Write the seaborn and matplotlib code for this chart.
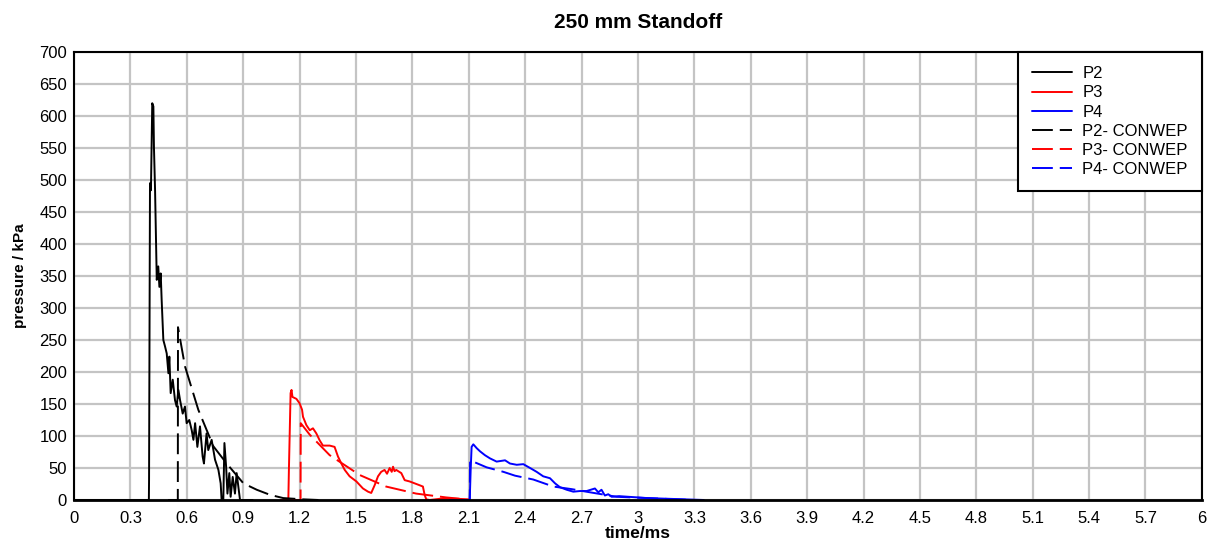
import numpy as np
import pandas as pd
import matplotlib
matplotlib.use("Agg")
import matplotlib.pyplot as plt
import seaborn as sns

p2_t = [0.0, 0.398, 0.399, 0.404, 0.409, 0.416, 0.422, 0.425, 0.431, 0.436, 0.440,
        0.448, 0.454, 0.461, 0.466, 0.475, 0.484, 0.493, 0.502, 0.507, 0.514, 0.525,
        0.537, 0.546, 0.555, 0.564, 0.578, 0.590, 0.599, 0.613, 0.626, 0.635, 0.644,
        0.656, 0.670, 0.684, 0.691, 0.705, 0.714, 0.732, 0.750, 0.768, 0.780, 0.785,
        0.794, 0.800, 0.809, 0.816, 0.826, 0.833, 0.844, 0.856, 0.865, 0.874, 0.883, 0.95]
p2_p = [0, 0, 31, 495, 484, 620, 615, 552, 484, 406, 344,
        365, 333, 354, 313, 250, 240, 229, 198, 224, 167, 188,
        156, 146, 172, 156, 135, 146, 120, 125, 109, 94, 120,
        83, 115, 68, 57, 104, 78, 94, 63, 47, 26, 0,
        0, 89, 52, 10, 42, 5, 36, 10, 42, 21, 0, 0]

p3_t = [1.10, 1.140, 1.143, 1.152, 1.157, 1.162, 1.183, 1.200, 1.213, 1.218, 1.236,
        1.254, 1.271, 1.289, 1.307, 1.324, 1.360, 1.386, 1.404, 1.422, 1.440, 1.466,
        1.502, 1.537, 1.564, 1.581, 1.599, 1.617, 1.634, 1.652, 1.665, 1.679, 1.690,
        1.697, 1.705, 1.714, 1.741, 1.759, 1.785, 1.812, 1.839, 1.856, 1.865, 1.874,
        1.892, 1.95, 2.03, 2.10]
p3_p = [0, 0, 47, 167, 172, 161, 158, 151, 141, 130, 117,
        109, 112, 104, 93, 85, 85, 83, 68, 57, 47, 37,
        29, 18, 13, 11, 23, 37, 44, 47, 41, 50, 44,
        52, 45, 47, 42, 31, 29, 26, 23, 21, 8, 1,
        0, 2, 2, 1]

p4_t = [2.00, 2.105, 2.110, 2.115, 2.124, 2.142, 2.160, 2.186, 2.213, 2.248, 2.293,
        2.319, 2.355, 2.390, 2.426, 2.461, 2.496, 2.532, 2.559, 2.585, 2.621, 2.656,
        2.692, 2.727, 2.771, 2.789, 2.806, 2.824, 2.842, 2.860, 2.90, 2.95, 3.05, 3.15,
        3.25, 3.35]
p4_p = [0, 0, 47, 83, 87, 81, 76, 70, 65, 60, 62,
        57, 55, 56, 50, 44, 37, 34, 26, 20, 16, 13,
        14, 14, 18, 12, 16, 7, 9, 5, 6, 5, 3, 2,
        1, 0]

# CONWEP predictions
c2_t = [0.50, 0.552, 0.553, 0.590, 0.661, 0.741, 0.812, 0.901, 0.972, 1.043, 1.113, 1.22, 1.30]
c2_p = [0, 0, 270, 209, 141, 84, 57, 26, 16, 8, 3, 1, 0]

c3_t = [1.15, 1.205, 1.206, 1.254, 1.36, 1.52, 1.66, 1.82, 1.98, 2.05]
c3_p = [0, 0, 120, 102, 70, 39, 21, 10, 4, 2]

c4_t = [2.05, 2.105, 2.107, 2.195, 2.284, 2.346, 2.443, 2.550, 2.647, 2.745, 2.887,
        3.047, 3.207, 3.30]
c4_p = [0, 0, 62, 51, 44, 38, 32, 21, 17, 12, 5, 3, 1, 0]

x_ticks = np.round(np.arange(0, 6.01, 0.3), 1)
y_ticks = np.arange(0, 701, 50)

sns.set_theme(style="whitegrid")
plt.rcParams["font.family"] = ["Liberation Sans", "DejaVu Sans"]
plt.rcParams["lines.scale_dashes"] = False
plt.rcParams["text.color"] = "black"
plt.rcParams["axes.labelcolor"] = "black"

fig = plt.figure(figsize=(12.14, 5.48), dpi=100)
ax = fig.add_axes([0.061, 0.0876, 0.929, 0.8175])

series = [
    ("P2", p2_t, p2_p, "black", "-"),
    ("P3", p3_t, p3_p, "red", "-"),
    ("P4", p4_t, p4_p, "blue", "-"),
    ("P2- CONWEP", c2_t, c2_p, "black", (0, (15, 5))),
    ("P3- CONWEP", c3_t, c3_p, "red", (0, (15, 5))),
    ("P4- CONWEP", c4_t, c4_p, "blue", (0, (15, 5))),
]
for label, t, p, col, ls in series:
    df = pd.DataFrame({"time": t, "pressure": p})
    sns.lineplot(data=df, x="time", y="pressure", ax=ax, color=col, linewidth=1.4,
                 linestyle=ls, estimator=None, sort=False, label=label)

ax.set_xlim(0, 6)
ax.set_ylim(0, 700)
ax.set_xticks(x_ticks)
ax.set_xticklabels([f"{v:g}" for v in x_ticks])
ax.set_yticks(y_ticks)
ax.grid(True, color="#c4c4c4", linewidth=1.6)
ax.set_facecolor("white")
for s in ax.spines.values():
    s.set_color("black")
    s.set_linewidth(1.5)
ax.spines["bottom"].set_linewidth(2)
ax.tick_params(axis="x", labelsize=12, colors="black", pad=8, length=0)
ax.tick_params(axis="y", labelsize=12, colors="black", pad=5, length=0)

ax.set_xlabel("time/ms", fontsize=12.5, fontweight="bold", labelpad=0, color="black")
ax.set_ylabel("pressure / kPa", fontsize=11, fontweight="bold", labelpad=9, color="black")
ax.set_title("250 mm Standoff", fontsize=15, fontweight="bold", pad=17, color="black")

leg = ax.legend(loc="upper right", borderaxespad=0, fancybox=False, framealpha=1,
                edgecolor="black", fontsize=12, handlelength=2.4, handletextpad=0.6,
                labelspacing=0.25, borderpad=0.85)
leg.get_frame().set_linewidth(1.5)
for txt in leg.get_texts():
    txt.set_color("black")

fig.savefig("out.png", dpi=100)
